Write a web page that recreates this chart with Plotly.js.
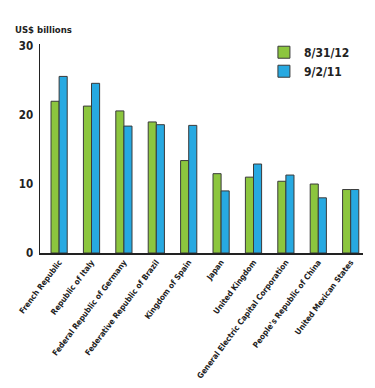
<!DOCTYPE html>
<html><head><meta charset="utf-8">
<script src="https://cdn.plot.ly/plotly-3.0.1.min.js"></script>
<style>html,body{margin:0;padding:0;background:#fff}#chart{width:375px;height:388px}</style>
</head><body><div id="chart"></div>
<script>
var categories = ["French Republic","Republic of Italy","Federal Republic of Germany","Federative Republic of Brazil","Kingdom of Spain","Japan","United Kingdom","General Electric Capital Corporation","People's Republic of China","United Mexican States"];
var values2012 = [22.0, 21.3, 20.6, 19.0, 13.4, 11.5, 11.0, 10.4, 10.0, 9.2];
var values2011 = [25.6, 24.6, 18.4, 18.6, 18.5, 9.0, 12.9, 11.3, 8.0, 9.2];
var seriesNames = ["8/31/12", "9/2/11"];
var yTicks = [0, 10, 20, 30];

var FONT = "'DejaVu Sans Condensed', 'Liberation Sans Narrow', 'Arial Narrow', sans-serif";
var idx = categories.map(function(_, i){ return i; });

var traces = [
  {type:"bar", name:seriesNames[0], x:idx, y:values2012,
   marker:{color:"#8cc63e", line:{color:"#3a3a3a", width:1}}},
  {type:"bar", name:seriesNames[1], x:idx, y:values2011,
   marker:{color:"#27a9e1", line:{color:"#3a3a3a", width:1}}}
];

var layout = {
  width:375, height:388,
  margin:{l:40, r:12, t:44, b:135},
  paper_bgcolor:"#fff", plot_bgcolor:"#fff",
  barmode:"group", bargap:0.5, bargroupgap:0,
  font:{family:FONT, color:"#222", size:10},
  showlegend:true,
  legend:{x:0.975, y:1.03, xanchor:"right", yanchor:"top", itemwidth:30,
          font:{family:FONT, size:12, color:"#222", weight:"bold"},
          bgcolor:"rgba(0,0,0,0)", traceorder:"normal"},
  xaxis:{range:[-0.59, 9.38], tickmode:"array", tickvals:idx, ticktext:categories,
         tickangle:-53, showgrid:false, zeroline:false, showline:true,
         linecolor:"#222", linewidth:1.5, ticks:"",
         tickfont:{family:FONT, size:8, color:"#222", weight:"bold"}, fixedrange:true},
  yaxis:{range:[0, 30.3], tickmode:"array", tickvals:yTicks, ticktext:yTicks.map(String),
         showgrid:false, zeroline:false, showline:true, linecolor:"#222", linewidth:1.5,
         ticks:"", ticklabelstandoff:3,
         tickfont:{family:FONT, size:11.5, color:"#222", weight:"bold"}, fixedrange:true},
  annotations:[{text:"US$ billions", xref:"paper", yref:"paper", x:-0.084, y:1.035,
                xanchor:"left", yanchor:"bottom", showarrow:false,
                font:{family:FONT, size:9.5, color:"#222", weight:"bold"}}]
};
Plotly.newPlot("chart", traces, layout, {displayModeBar:false, staticPlot:true});
</script></body></html>
